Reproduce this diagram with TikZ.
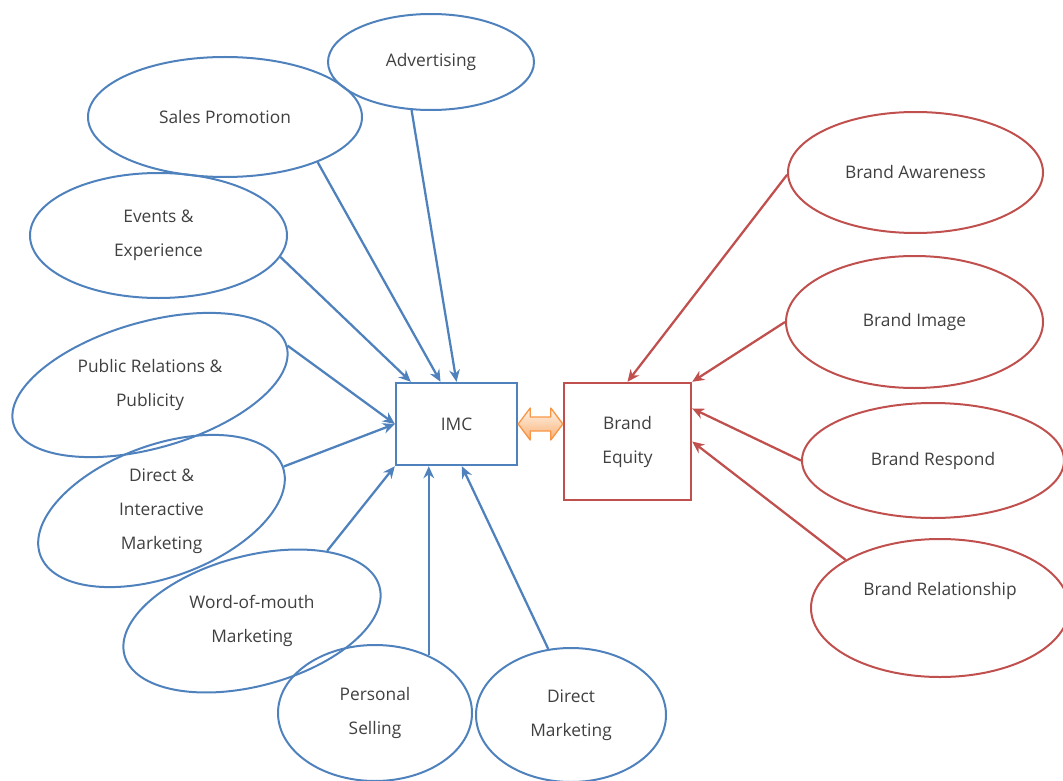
\documentclass[tikz,border=0pt]{standalone}
\usepackage{fontspec}
\setmainfont{Open Sans}
\usepackage{xcolor}
\usepackage{tikz}
\usetikzlibrary{shapes.geometric,arrows.meta,calc}
\definecolor{imcblue}{HTML}{4F81BD}
\definecolor{equityred}{HTML}{C0504D}
\definecolor{linkorange}{HTML}{F79646}
\definecolor{labelgray}{HTML}{404040}
\pgfkeys{tikz/myenv/.style={x=0.75pt,y=-0.75pt,font=\fontsize{13}{25.5}\selectfont,text=labelgray}}
\pgfkeys{tikz/myblueellipse/.style={ellipse,draw=imcblue,line width=1.5pt,inner sep=0pt,align=center}}
\pgfkeys{tikz/myredellipse/.style={ellipse,draw=equityred,line width=1.5pt,inner sep=0pt,align=center}}
\pgfkeys{tikz/mybox/.style={rectangle,line width=1.8pt,inner sep=0pt,align=center}}
\pgfkeys{tikz/mybluearrow/.style={draw=imcblue,line width=1.7pt,-{Stealth[length=9pt,width=8pt]}}}
\pgfkeys{tikz/myredarrow/.style={draw=equityred,line width=1.7pt,-{Stealth[length=9pt,width=8pt]}}}
\pgfkeys{tikz/mylink/.style={draw=linkorange,line width=1pt,line join=round,top color=orange!8,bottom color=linkorange!75}}
\newcommand*\mytiltellipse[6]{
    \node[myblueellipse,rotate=#3,minimum width=#4,minimum height=#5] (#1) at #2 {};
    \node[align=center] (#1-text) at (#1.center) {#6};
}

\begin{document}
\begin{tikzpicture}[myenv]
    \useasboundingbox (0,0) rectangle (1063,781);
    \clip (0,0) rectangle (1063,781);
    \node[mybox,draw=imcblue,minimum width=90.75pt,minimum height=61.5pt] (imc) at (456.5,424) {IMC};
    \node[mybox,draw=equityred,minimum width=95.25pt,minimum height=87.75pt] (equity) at (627.5,441.5) {Brand\\Equity};
    \coordinate (linkend) at (imc.east -| equity.west);
    \draw[mylink] (imc.east) -- ++(12,-16) -- ++(0,9) -- ($(linkend)+(-12,-7)$) -- ++(0,-9)
        -- (linkend) -- ++(-12,16) -- ++(0,-9) -- ($(imc.east)+(12,7)$) -- ++(0,9) -- cycle;

    \node[myblueellipse,minimum width=154.5pt,minimum height=72pt] (adv) at (431,62) {Advertising};
    \node[myblueellipse,minimum width=205.5pt,minimum height=90pt] (salesprom) at (225,117) {Sales Promotion};
    \node[myblueellipse,minimum width=192.75pt,minimum height=93.75pt] (events) at (158.5,235.5) {Events \&\\Experience};
    \mytiltellipse{pubrel}{(150,385)}{16}{213pt}{94.5pt}{Public Relations \&\\Publicity}
    \mytiltellipse{dirint}{(161.5,511)}{20}{193.5pt}{99pt}{Direct \&\\Interactive\\Marketing}
    \mytiltellipse{wom}{(252,621)}{15}{198pt}{97.5pt}{Word-of-mouth\\Marketing}
    \node[myblueellipse,minimum width=145.5pt,minimum height=102pt] (persell) at (375,713) {Personal\\Selling};
    \node[myblueellipse,minimum width=142.5pt,minimum height=100.5pt] (dirmkt) at (571,715) {Direct\\Marketing};

    \node[myredellipse,minimum width=191.25pt,minimum height=90.75pt] (aware) at (915.5,172.5) {Brand Awareness};
    \node[myredellipse,minimum width=192.75pt,minimum height=99pt] (image) at (914.5,322) {Brand Image};
    \node[myredellipse,minimum width=196.5pt,minimum height=86.25pt] (respond) at (933,460.5) {Brand Respond};
    \node[myredellipse,minimum width=193.5pt,minimum height=103.5pt] (relation) at (940,608) {};
    \node (relation-text) at ([yshift=12.75pt]relation.center) {Brand Relationship};

    \draw[mybluearrow] (adv.248) -- (imc.north);
    \draw[mybluearrow] (salesprom.334) -- ([xshift=-12pt]imc.north);
    \draw[mybluearrow] (events.350) -- ([xshift=12pt]imc.north west);
    \draw[mybluearrow] (pubrel.east) -- (imc.west);
    \draw[mybluearrow] (dirint.east) -- (imc.west);
    \draw[mybluearrow] (wom.28) -- (imc.south west);
    \draw[mybluearrow] (persell.47) -- (persell.47 |- imc.south);
    \draw[mybluearrow] (dirmkt.109) -- ([xshift=4pt]imc.south);

    \draw[myredarrow] (aware.181) -- (equity.north);
    \draw[myredarrow] (image.west) -- (equity.north east);
    \draw[myredarrow] (respond.west) -- ([yshift=-20pt]equity.north east);
    \draw[myredarrow] (relation.153) -- (equity.east);
\end{tikzpicture}
\end{document}
